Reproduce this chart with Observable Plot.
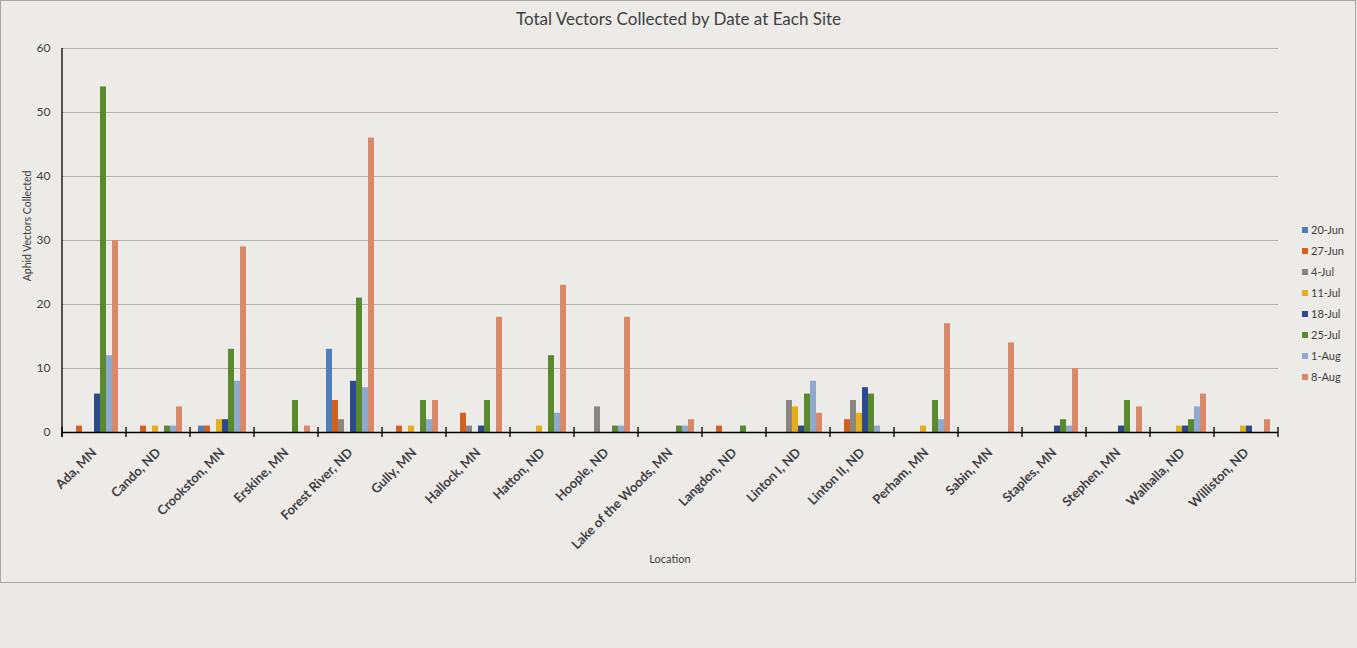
<!DOCTYPE html>
<html>
<head>
<meta charset="utf-8">
<script src="https://cdn.jsdelivr.net/npm/d3@7"></script>
<script src="https://cdn.jsdelivr.net/npm/@observablehq/plot@0.6"></script>
<style>
  html, body { margin: 0; padding: 0; background: #ebe9e6; }
  #chart { position: relative; width: 1357px; height: 648px; font-family: Lato, "Open Sans", sans-serif; color: #404040; }
  #frame { position: absolute; left: 0; top: 0; width: 1354px; height: 581px; border: 1px solid #a9a7a4; background: #edebe8; }
  #title { position: absolute; left: 0; width: 1357px; top: 8px; text-align: center; font-size: 17px; color: #404040; }
  #ylabel { position: absolute; left: 27px; top: 226px; transform: translate(-50%, -50%) rotate(-90deg); font-size: 10.5px; white-space: nowrap; }
  #xlabel { position: absolute; left: 670px; top: 552px; transform: translateX(-50%); font-size: 11px; }
  #legend { position: absolute; left: 1302px; top: 223px; font-size: 11px; }
  .item { height: 21px; line-height: 14px; white-space: nowrap; }
  .sw { display: inline-block; width: 6px; height: 6px; margin-right: 3px; vertical-align: 1px; }
  svg { position: absolute; left: 0; top: 0; }
</style>
</head>
<body>
<div id="chart">
  <div id="frame"></div>
  <div id="title">Total Vectors Collected by Date at Each Site</div>
  <div id="ylabel">Aphid Vectors Collected</div>
  <div id="xlabel">Location</div>
  <div id="legend"></div>
</div>
<script>
const sites = ["Ada, MN", "Cando, ND", "Crookston, MN", "Erskine, MN", "Forest River, ND", "Gully, MN",
  "Hallock, MN", "Hatton, ND", "Hoople, ND", "Lake of the Woods, MN", "Langdon, ND", "Linton I, ND",
  "Linton II, ND", "Perham, MN", "Sabin, MN", "Staples, MN", "Stephen, MN", "Walhalla, ND", "Williston, ND"];
const dates = ["20-Jun", "27-Jun", "4-Jul", "11-Jul", "18-Jul", "25-Jul", "1-Aug", "8-Aug"];
const colors = ["#4f7fba", "#d4601f", "#8c8682", "#e5ae1e", "#2e4a8e", "#5a8a30", "#8da9cd", "#d8896a"];
const yTicks = [0, 10, 20, 30, 40, 50, 60];

const jun20 = [0, 0, 1, 0, 13, 0, 0, 0, 0, 0, 0, 0, 0, 0, 0, 0, 0, 0, 0];
const jun27 = [1, 1, 1, 0, 5, 1, 3, 0, 0, 0, 1, 0, 2, 0, 0, 0, 0, 0, 0];
const jul4  = [0, 0, 0, 0, 2, 0, 1, 0, 4, 0, 0, 5, 5, 0, 0, 0, 0, 0, 0];
const jul11 = [0, 1, 2, 0, 0, 1, 0, 1, 0, 0, 0, 4, 3, 1, 0, 0, 0, 1, 1];
const jul18 = [6, 0, 2, 0, 8, 0, 1, 0, 0, 0, 0, 1, 7, 0, 0, 1, 1, 1, 1];
const jul25 = [54, 1, 13, 5, 21, 5, 5, 12, 1, 1, 1, 6, 6, 5, 0, 2, 5, 2, 0];
const aug1  = [12, 1, 8, 0, 7, 2, 0, 3, 1, 1, 0, 8, 1, 2, 0, 1, 0, 4, 0];
const aug8  = [30, 4, 29, 1, 46, 5, 18, 23, 18, 2, 0, 3, 0, 17, 14, 10, 4, 6, 2];

const series = [jun20, jun27, jul4, jul11, jul18, jul25, aug1, aug8];
const data = sites.flatMap((site, i) => dates.map((date, j) => ({site, date, value: series[j][i]})));

const plot = Plot.plot({
  width: 1357,
  height: 583,
  marginLeft: 60,
  marginRight: 77,
  marginTop: 48,
  marginBottom: 151,
  style: {background: "transparent", fontFamily: "Lato, 'Open Sans', sans-serif", color: "#404040", overflow: "visible"},
  fx: {domain: sites, padding: 0},
  x: {domain: dates, paddingInner: 0, paddingOuter: 0.94, axis: null},
  y: {domain: [0, 60]},
  color: {domain: dates, range: colors},
  marks: [
    Plot.gridY(yTicks.filter(d => d > 0), {stroke: "#b3b1ae", strokeOpacity: 1, strokeWidth: 1}),
    Plot.barY(data, {fx: "site", x: "date", y: "value", fill: "date"}),
    Plot.ruleY([0], {stroke: "#000", strokeWidth: 1.3}),
    Plot.axisY(yTicks, {tickSize: 0, tickPadding: 12, fontSize: 12, label: null, fill: "#404040"}),
    Plot.axisFx({anchor: "bottom", tickRotate: -45, tickSize: 0, tickPadding: 18, fontSize: 13, fontWeight: "bold", label: null, fill: "#404040"})
  ]
});

document.getElementById("chart").appendChild(plot);

// Axis line and category boundary ticks, from the plot's own scales
const fx = plot.scale("fx");
const ys = plot.scale("y");
const svg = d3.select(plot);
const bw = fx.bandwidth;
const bounds = sites.map(s => fx.apply(s)).concat([fx.apply(sites[sites.length - 1]) + bw]);
const y0 = ys.apply(0), y60 = ys.apply(60);
const g = svg.append("g").attr("stroke", "#000").attr("stroke-width", 1.3);
g.append("line").attr("x1", bounds[0]).attr("x2", bounds[0]).attr("y1", y60).attr("y2", y0 + 5);
g.selectAll("line.tk").data(bounds).join("line").attr("class", "tk")
  .attr("x1", d => d).attr("x2", d => d).attr("y1", y0 - 5).attr("y2", y0 + 5);

// Legend
const legend = d3.select("#legend");
dates.forEach((d, i) => {
  const item = legend.append("div").attr("class", "item");
  item.append("span").attr("class", "sw").style("background", colors[i]);
  item.append("span").text(d);
});
</script>
</body>
</html>
